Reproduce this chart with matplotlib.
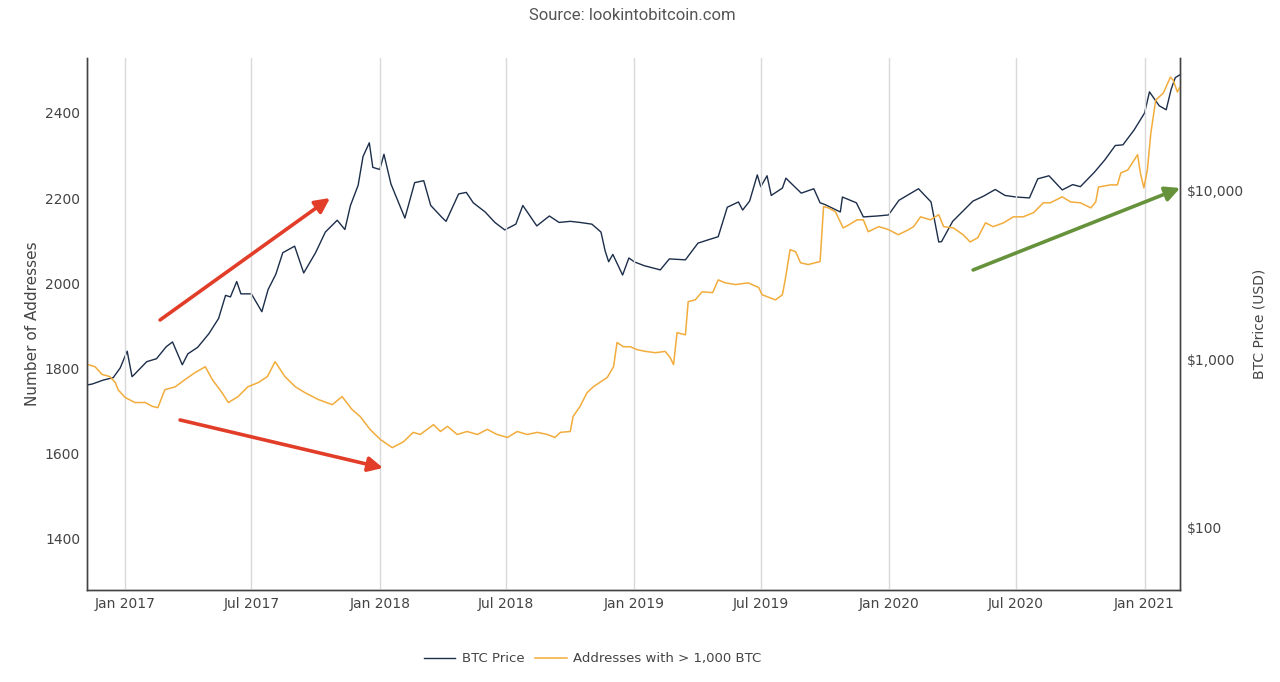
import numpy as np
import pandas as pd
import matplotlib
matplotlib.use("Agg")
import matplotlib.pyplot as plt
import matplotlib.dates as mdates
from matplotlib.ticker import FixedLocator, NullLocator, FuncFormatter

# BTC price (USD)
price_dates = [
    "2016-11-08", "2016-11-15", "2016-12-01", "2016-12-15", "2016-12-25", "2017-01-04",
    "2017-01-11", "2017-01-15", "2017-02-01", "2017-02-15", "2017-03-01", "2017-03-10",
    "2017-03-24", "2017-04-01", "2017-04-15", "2017-05-01", "2017-05-15", "2017-05-25",
    "2017-06-01", "2017-06-10", "2017-06-16", "2017-07-01", "2017-07-16", "2017-07-25",
    "2017-08-05", "2017-08-15", "2017-09-01", "2017-09-14", "2017-10-01", "2017-10-15",
    "2017-11-01", "2017-11-12", "2017-11-20", "2017-12-01", "2017-12-08", "2017-12-17",
    "2017-12-22", "2018-01-01", "2018-01-07", "2018-01-17", "2018-02-06", "2018-02-20",
    "2018-03-05", "2018-03-15", "2018-04-01", "2018-04-06", "2018-04-24", "2018-05-05",
    "2018-05-15", "2018-06-01", "2018-06-15", "2018-06-29", "2018-07-15", "2018-07-25",
    "2018-08-14", "2018-09-01", "2018-09-15", "2018-10-01", "2018-10-15", "2018-11-01",
    "2018-11-14", "2018-11-20", "2018-11-25", "2018-12-01", "2018-12-15", "2018-12-24",
    "2019-01-01", "2019-01-15", "2019-02-07", "2019-02-20", "2019-03-15", "2019-04-02",
    "2019-04-15", "2019-05-01", "2019-05-14", "2019-05-30", "2019-06-05", "2019-06-15",
    "2019-06-26", "2019-07-01", "2019-07-10", "2019-07-16", "2019-08-01", "2019-08-06",
    "2019-08-28", "2019-09-15", "2019-09-24", "2019-10-01", "2019-10-23", "2019-10-26",
    "2019-11-15", "2019-11-25", "2019-12-15", "2019-12-31", "2020-01-15", "2020-02-12",
    "2020-03-01", "2020-03-12", "2020-03-16", "2020-04-01", "2020-04-30", "2020-05-15",
    "2020-06-01", "2020-06-15", "2020-07-01", "2020-07-20", "2020-08-01", "2020-08-17",
    "2020-09-05", "2020-09-20", "2020-10-01", "2020-10-21", "2020-11-05", "2020-11-20",
    "2020-12-01", "2020-12-17", "2021-01-01", "2021-01-08", "2021-01-22", "2021-02-01",
    "2021-02-08", "2021-02-14", "2021-02-20",
]
btc_price = [
    706, 715, 755, 780, 890, 1120,
    790, 820, 970, 1010, 1190, 1270,
    930, 1080, 1180, 1420, 1750, 2400,
    2350, 2900, 2450, 2450, 1920, 2600,
    3200, 4300, 4700, 3260, 4300, 5700,
    6700, 5900, 8200, 10800, 16000, 19300,
    13800, 13400, 16500, 11000, 6900, 11200,
    11500, 8200, 6900, 6600, 9600, 9800,
    8500, 7500, 6500, 5870, 6350, 8200,
    6200, 7100, 6500, 6600, 6500, 6350,
    5700, 4400, 3800, 4200, 3170, 4000,
    3790, 3600, 3400, 3950, 3900, 4900,
    5100, 5350, 8000, 8600, 7700, 8700,
    12450, 10600, 12300, 9400, 10400, 11900,
    9700, 10300, 8500, 8300, 7500, 9200,
    8500, 7010, 7100, 7200, 8800, 10300,
    8600, 4980, 5000, 6600, 8700, 9300,
    10200, 9400, 9200, 9090, 11800, 12300,
    10140, 10900, 10600, 12900, 15270, 18600,
    18770, 23000, 29000, 38700, 32000, 30300,
    40000, 47000, 48700,
]

# Addresses holding more than 1,000 BTC
addr_dates = [
    "2016-11-09", "2016-11-19", "2016-11-29", "2016-12-10", "2016-12-18", "2016-12-22",
    "2017-01-01", "2017-01-15", "2017-01-30", "2017-02-09", "2017-02-17", "2017-02-27",
    "2017-03-14", "2017-03-28", "2017-04-11", "2017-04-26", "2017-05-06", "2017-05-20",
    "2017-05-29", "2017-06-12", "2017-06-26", "2017-07-11", "2017-07-24", "2017-08-04",
    "2017-08-18", "2017-09-02", "2017-09-16", "2017-10-05", "2017-10-25", "2017-11-08",
    "2017-11-22", "2017-12-04", "2017-12-12", "2017-12-18", "2018-01-02", "2018-01-19",
    "2018-02-04", "2018-02-18", "2018-02-28", "2018-03-19", "2018-03-29", "2018-04-08",
    "2018-04-22", "2018-05-06", "2018-05-21", "2018-06-04", "2018-06-18", "2018-07-03",
    "2018-07-17", "2018-07-31", "2018-08-15", "2018-08-29", "2018-09-09", "2018-09-17",
    "2018-10-01", "2018-10-05", "2018-10-15", "2018-10-25", "2018-11-03", "2018-11-23",
    "2018-12-02", "2018-12-07", "2018-12-16", "2018-12-26", "2019-01-05", "2019-01-17",
    "2019-01-31", "2019-02-14", "2019-02-21", "2019-02-26", "2019-03-03", "2019-03-15",
    "2019-03-19", "2019-03-29", "2019-04-08", "2019-04-23", "2019-05-01", "2019-05-11",
    "2019-05-26", "2019-06-13", "2019-06-28", "2019-07-03", "2019-07-22", "2019-08-01",
    "2019-08-05", "2019-08-12", "2019-08-20", "2019-08-27", "2019-09-07", "2019-09-24",
    "2019-09-29", "2019-10-06", "2019-10-16", "2019-10-27", "2019-11-04", "2019-11-16",
    "2019-11-25", "2019-12-02", "2019-12-17", "2019-12-31", "2020-01-14", "2020-01-29",
    "2020-02-05", "2020-02-15", "2020-02-29", "2020-03-12", "2020-03-19", "2020-04-02",
    "2020-04-16", "2020-04-26", "2020-05-07", "2020-05-18", "2020-05-29", "2020-06-13",
    "2020-06-27", "2020-07-11", "2020-07-26", "2020-08-09", "2020-08-19", "2020-09-05",
    "2020-09-17", "2020-10-01", "2020-10-16", "2020-10-23", "2020-10-27", "2020-11-13",
    "2020-11-23", "2020-11-28", "2020-12-08", "2020-12-22", "2020-12-26", "2020-12-31",
    "2021-01-05", "2021-01-10", "2021-01-17", "2021-01-28", "2021-02-07", "2021-02-11",
    "2021-02-17", "2021-02-20",
]
addresses = [
    1809, 1804, 1786, 1781, 1767, 1750,
    1732, 1720, 1720, 1711, 1708, 1750,
    1757, 1774, 1790, 1804, 1774, 1743,
    1720, 1734, 1757, 1767, 1781, 1816,
    1781, 1757, 1743, 1727, 1715, 1734,
    1704, 1687, 1670, 1657, 1633, 1614,
    1628, 1650, 1645, 1668, 1652, 1664,
    1645, 1652, 1645, 1657, 1645, 1638,
    1652, 1645, 1650, 1645, 1638, 1650,
    1652, 1687, 1711, 1743, 1757, 1779,
    1804, 1861, 1851, 1851, 1844, 1840,
    1837, 1840, 1826, 1809, 1884, 1879,
    1957, 1961, 1980, 1978, 2008, 2001,
    1997, 2001, 1990, 1973, 1961, 1973,
    2008, 2079, 2074, 2048, 2044, 2051,
    2180, 2177, 2168, 2130, 2137, 2149,
    2149, 2121, 2133, 2126, 2114, 2126,
    2133, 2156, 2149, 2161, 2133, 2130,
    2114, 2097, 2107, 2142, 2133, 2142,
    2156, 2156, 2166, 2189, 2189, 2203,
    2191, 2189, 2177, 2191, 2226, 2231,
    2231, 2259, 2266, 2302, 2259, 2224,
    2266, 2353, 2430, 2447, 2484, 2477,
    2449, 2459,
]

navy = "#1c2e4a"
orange = "#f2ac3c"
grey = "#444444"

fig = plt.figure(figsize=(12.8, 6.82), dpi=100)
ax = fig.add_axes([0.068, 0.135, 0.854, 0.78])
ax2 = ax.twinx()

l1, = ax2.plot(pd.to_datetime(price_dates), btc_price, color=navy, lw=1.0, label="BTC Price")
l2, = ax.plot(pd.to_datetime(addr_dates), addresses, color=orange, lw=1.1,
              label="Addresses with > 1,000 BTC")

# orange drawn over navy, as in the original
ax.set_zorder(ax2.get_zorder() + 1)
ax.patch.set_visible(False)

ax.set_xlim(pd.Timestamp("2016-11-07 12:00"), pd.Timestamp("2021-02-21"))
ax.set_ylim(1280, 2529)
ax2.set_yscale("log")
ax2.set_ylim(42.9, 61500)

ax.xaxis.set_major_locator(mdates.MonthLocator(bymonth=[1, 7]))
ax.xaxis.set_major_formatter(mdates.DateFormatter("%b %Y"))
ax.set_yticks([1400, 1600, 1800, 2000, 2200, 2400])
ax2.yaxis.set_major_locator(FixedLocator([100, 1000, 10000]))
ax2.yaxis.set_minor_locator(NullLocator())
ax2.yaxis.set_major_formatter(FuncFormatter(lambda v, p: "${:,.0f}".format(v)))

ax.grid(axis="x", color="#d9d9d9", lw=1.0)
ax.set_axisbelow(True)

for a in (ax, ax2):
    a.tick_params(length=0, labelsize=10, labelcolor=grey, pad=5)
    a.spines["top"].set_visible(False)
    for s in ("left", "bottom", "right"):
        a.spines[s].set_color(grey)
        a.spines[s].set_linewidth(1.0)

ax.set_ylabel("Number of Addresses", fontsize=11, color=grey)
ax.yaxis.set_label_coords(-0.043, 0.5)
# moved a bit right so it clears the $1,000 label
ax2.set_ylabel("BTC Price (USD)", fontsize=10, color=grey)
ax2.yaxis.set_label_coords(1.066, 0.5)

fig.text(0.494, 0.977, "Source: lookintobitcoin.com", ha="center", va="center",
         fontsize=12, color="#555555", family="Roboto")

# trend arrows
red = "#e23d28"
green = "#65923a"
arrow_kw = dict(arrowstyle="-|>", lw=2.6, mutation_scale=22, shrinkA=0, shrinkB=0)
ax.annotate("", xy=(0.2223, 0.7368), xytext=(0.0668, 0.5075), xycoords="axes fraction",
            arrowprops=dict(color=red, **arrow_kw), zorder=5)
ax.annotate("", xy=(0.2708, 0.2293), xytext=(0.0851, 0.3195), xycoords="axes fraction",
            arrowprops=dict(color=red, **arrow_kw), zorder=5)
ax.annotate("", xy=(1.0, 0.7556), xytext=(0.8106, 0.6015), xycoords="axes fraction",
            arrowprops=dict(color=green, **arrow_kw), zorder=5, annotation_clip=False)

leg = fig.legend(handles=[l1, l2], loc="center", bbox_to_anchor=(0.463, 0.034), ncol=2,
                 frameon=False, fontsize=9.5, handlelength=2.4, columnspacing=0.8,
                 handletextpad=0.5)
for t in leg.get_texts():
    t.set_color(grey)

fig.savefig("out.png", dpi=100)
